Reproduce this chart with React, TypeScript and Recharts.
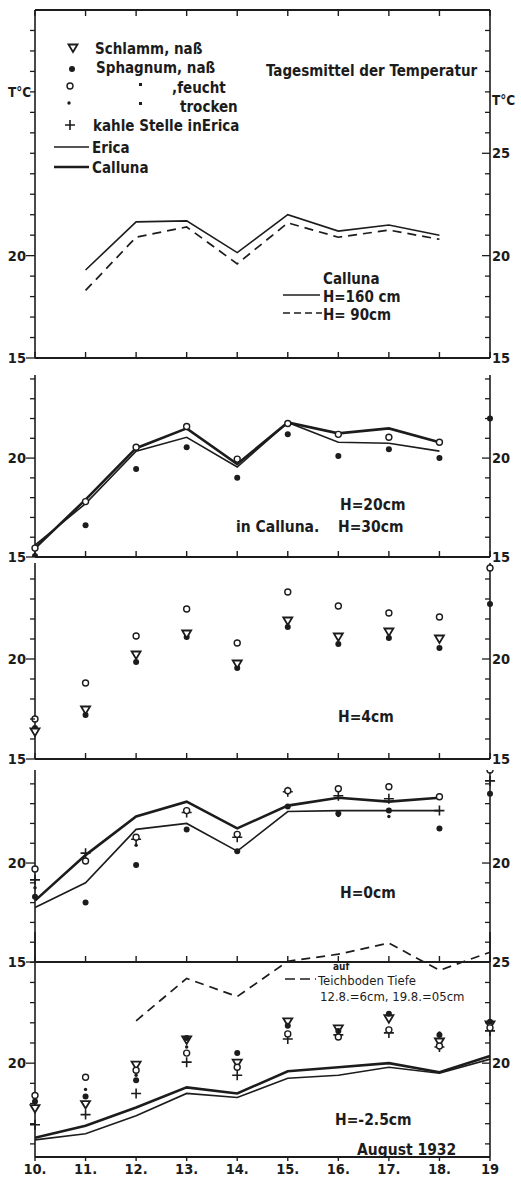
import React from "react";
import { ComposedChart, Line, XAxis, YAxis } from "recharts";

const INK = "#1c1c1c";
const FONT = "'DejaVu Sans Condensed', 'DejaVu Sans', sans-serif";
const PLOT_X = 35;
const PLOT_W = 455;

// Tage im August 1932
const days = [10, 11, 12, 13, 14, 15, 16, 17, 18, 19];
const dayLabels = ["10.", "11.", "12.", "13.", "14.", "15.", "16.", "17.", "18.", "19"];

// Feld 1: Calluna H=160 / 90 cm
const p1Calluna160 = [null, 19.3, 21.65, 21.7, 20.15, 22.0, 21.2, 21.5, 21.0, null];
const p1Calluna90 = [null, 18.3, 20.9, 21.4, 19.6, 21.6, 20.9, 21.25, 20.8, null];

// Feld 2: H=20cm / in Calluna H=30cm
const p2Calluna = [15.45, 17.9, 20.5, 21.5, 19.7, 21.8, 21.25, 21.5, 20.8, null];
const p2Erica = [15.6, 17.7, 20.35, 21.05, 19.55, 21.8, 20.8, 20.75, 20.35, null];
const p2Feucht = [15.45, 17.8, 20.55, 21.6, 19.95, 21.75, 21.2, 21.05, 20.8, null];
const p2Nass = [15.05, 16.6, 19.45, 20.55, 19.0, 21.2, 20.1, 20.45, 20.0, 22.0];

// Feld 3: H=4cm
const p3Feucht = [17.0, 18.8, 21.15, 22.5, 20.8, 23.35, 22.65, 22.3, 22.1, 24.55];
const p3Schlamm = [16.35, 17.45, 20.2, 21.25, 19.75, 21.9, 21.1, 21.35, 21.0, null];
const p3Nass = [16.55, 17.2, 19.85, 21.1, 19.55, 21.6, 20.75, 21.05, 20.55, 22.75];

// Feld 4: H=0cm
const p4Calluna = [18.1, 20.4, 22.35, 23.1, 21.75, 22.9, 23.3, 23.1, 23.3, null];
const p4Erica = [17.75, 19.0, 21.7, 22.0, 20.6, 22.6, 22.65, 22.65, 22.65, null];
const p4Feucht = [19.7, 20.1, 21.3, 22.65, 21.45, 23.65, 23.75, 23.85, 23.35, 24.7];
const p4Nass = [18.3, 18.0, 19.9, 21.7, 20.6, 22.85, 22.5, 22.65, 21.75, 23.5];
const p4Trocken = [18.75, null, 20.9, null, null, null, 22.4, 22.35, null, null];
const p4Kahl = [19.15, 20.5, 21.2, 22.55, 21.3, 23.6, 23.4, 23.25, 22.65, 24.15];

// Feld 5: H=-2.5cm
const p5Calluna = [16.3, 16.9, 17.8, 18.8, 18.5, 19.6, 19.8, 20.0, 19.55, 20.35];
const p5Erica = [16.2, 16.5, 17.4, 18.5, 18.3, 19.25, 19.4, 19.8, 19.5, 20.2];
const p5Teich = [null, null, 22.1, 24.2, 23.3, 25.05, 25.4, 25.95, 24.6, 25.5];
const p5Schlamm = [17.75, 17.95, 19.9, 21.15, 20.0, 22.05, 21.7, 22.2, 21.05, 21.9];
const p5Feucht = [18.4, 19.3, 19.65, 20.5, 19.8, 21.45, 21.3, 21.65, 20.85, 21.75];
const p5Nass = [18.1, 18.35, 19.15, 21.25, 20.5, 21.85, 21.6, 22.45, 21.4, 22.05];
const p5Trocken = [null, 18.7, 19.4, 20.8, null, null, null, null, 21.5, null];
const p5Kahl = [16.95, 17.45, 18.5, 20.05, 19.4, 21.2, 21.4, 21.5, 20.8, 21.6];

// Lage der fünf Felder (Pixel)
const panelBox = [
  { top: 10, bottom: 358 },
  { top: 375, bottom: 557 },
  { top: 563, bottom: 759 },
  { top: 770, bottom: 962 },
  { top: 932, bottom: 1157 },
];

type Kind = "thick" | "thin" | "dashed" | "tri" | "dot" | "ring" | "small" | "plus";
type Series = { key: string; kind: Kind; values: (number | null)[] };

function Mark({ kind, cx, cy }: { kind: Kind; cx: number; cy: number }) {
  if (kind === "tri")
    return (
      <path
        d={`M${cx - 4.5},${cy - 3.5} L${cx + 4.5},${cy - 3.5} L${cx},${cy + 4} Z`}
        fill="#fff"
        stroke={INK}
        strokeWidth={1.8}
      />
    );
  if (kind === "dot") return <circle cx={cx} cy={cy} r={3} fill={INK} />;
  if (kind === "ring") return <circle cx={cx} cy={cy} r={3} fill="#fff" stroke={INK} strokeWidth={1.4} />;
  if (kind === "small") return <circle cx={cx} cy={cy} r={1.7} fill={INK} />;
  return (
    <path
      d={`M${cx - 5},${cy} H${cx + 5} M${cx},${cy - 5} V${cy + 5}`}
      stroke={INK}
      strokeWidth={1.6}
    />
  );
}

function intTicks(lo: number, hi: number) {
  const out: number[] = [];
  for (let v = Math.ceil(lo); v <= Math.floor(hi); v++) out.push(v);
  return out;
}

// horizontale Rahmenlinie mit Tagesstrichen (dir: -1 nach oben, +1 nach unten)
function FrameLine({ x, y, dir, len }: { x: number; y: number; dir: number; len: number }) {
  const first = days[0];
  const last = days[days.length - 1];
  return (
    <g>
      <line x1={x} x2={x + PLOT_W} y1={y} y2={y} stroke={INK} strokeWidth={1.8} />
      {days.map((d) => {
        const dx = x + ((d - first) / (last - first)) * PLOT_W;
        return <line key={d} x1={dx} x2={dx} y1={y} y2={y + dir * len} stroke={INK} strokeWidth={1.4} />;
      })}
    </g>
  );
}

function LeftTick(props: any) {
  const { x, y, payload, labels } = props;
  const major = labels.includes(payload.value);
  return (
    <g>
      <line x1={x - (major ? 9 : 5)} x2={x} y1={y} y2={y} stroke={INK} strokeWidth={1.3} />
      {major && (
        <text x={x - 9} y={y + 5} textAnchor="end" fontSize={14.5} fontFamily={FONT} fontWeight="bold" fill={INK}>
          {payload.value}
        </text>
      )}
    </g>
  );
}

function RightTick(props: any) {
  const { x, y, payload, labels } = props;
  const major = labels.includes(payload.value);
  return (
    <g>
      <line x1={x - (major ? 8 : 5)} x2={x} y1={y} y2={y} stroke={INK} strokeWidth={1.3} />
      {major && (
        <text x={x + 2} y={y + 5} textAnchor="start" fontSize={14.5} fontFamily={FONT} fontWeight="bold" fill={INK}>
          {payload.value}
        </text>
      )}
    </g>
  );
}

type PanelProps = {
  box: { top: number; bottom: number };
  domain: [number, number];
  tickRange: [number, number];
  series: Series[];
  leftLabels: number[];
  rightLabels: number[];
  dayAxis?: boolean;
};

function Panel({ box, domain, tickRange, series, leftLabels, rightLabels, dayAxis }: PanelProps) {
  const { top, bottom } = box;
  const xAxisH = dayAxis ? 24 : 1;
  const mBottom = dayAxis ? 4 : 11;
  const rows = days.map((d, i) => {
    const r: Record<string, number | null> = { day: d };
    series.forEach((s) => (r[s.key] = s.values[i]));
    return r;
  });
  const yTicks = intTicks(tickRange[0], tickRange[1]);
  return (
    <div style={{ position: "absolute", left: 0, top: top - 12 }}>
      <ComposedChart
        width={521}
        height={bottom - top + 12 + xAxisH + mBottom}
        data={rows}
        margin={{ top: 12, right: 5, bottom: mBottom, left: 5 }}
        style={{ overflow: "visible" }}
      >
        <XAxis
          dataKey="day"
          type="number"
          domain={[10, 19]}
          ticks={days}
          interval={0}
          height={xAxisH}
          axisLine={false}
          tickLine={false}
          tick={
            dayAxis
              ? { fontSize: 14.5, fontFamily: FONT, fontWeight: "bold", fill: INK }
              : false
          }
          tickFormatter={(d: number) => dayLabels[days.indexOf(d)]}
          tickSize={4}
          tickMargin={3}
        />
        <YAxis
          yAxisId="l"
          orientation="left"
          width={30}
          type="number"
          domain={domain}
          allowDataOverflow
          ticks={yTicks}
          interval={0}
          tickSize={0}
          tickMargin={0}
          tickLine={false}
          axisLine={{ stroke: INK, strokeWidth: 1.6 }}
          tick={(p: any) => <LeftTick {...p} labels={leftLabels} />}
        />
        <YAxis
          yAxisId="r"
          orientation="right"
          width={26}
          type="number"
          domain={domain}
          allowDataOverflow
          ticks={yTicks}
          interval={0}
          tickSize={0}
          tickMargin={0}
          tickLine={false}
          axisLine={{ stroke: INK, strokeWidth: 1.6 }}
          tick={(p: any) => <RightTick {...p} labels={rightLabels} />}
        />
        {series.map((s) => {
          if (s.kind === "thick" || s.kind === "thin" || s.kind === "dashed") {
            return (
              <Line
                key={s.key}
                yAxisId="l"
                dataKey={s.key}
                type="linear"
                stroke={INK}
                strokeWidth={s.kind === "thick" ? 2.6 : s.kind === "dashed" ? 1.7 : 1.6}
                strokeDasharray={s.kind === "dashed" ? "9 6" : undefined}
                dot={false}
                activeDot={false}
                isAnimationActive={false}
              />
            );
          }
          return (
            <Line
              key={s.key}
              yAxisId="l"
              dataKey={s.key}
              stroke="none"
              activeDot={false}
              isAnimationActive={false}
              dot={(p: any) =>
                p.cy == null || p.value == null ? (
                  <g key={p.key} />
                ) : (
                  <g key={p.key}>
                    <Mark kind={s.kind} cx={p.cx} cy={p.cy} />
                  </g>
                )
              }
            />
          );
        })}
      </ComposedChart>
    </div>
  );
}

const txt = (x: number, y: number, s: string, size = 14, weight: string = "bold") => (
  <text x={x} y={y} fontSize={size} fontFamily={FONT} fontWeight={weight} fill={INK}>
    {s}
  </text>
);

export default function App() {
  return (
    <div style={{ position: "absolute", left: 0, top: 0, width: 521, height: 1185, background: "#fff", overflow: "hidden" }}>
      <Panel
        box={panelBox[0]}
        domain={[15, 32]}
        tickRange={[15, 31]}
        leftLabels={[15, 20]}
        rightLabels={[15, 20, 25]}
        series={[
          { key: "h160", kind: "thin", values: p1Calluna160 },
          { key: "h90", kind: "dashed", values: p1Calluna90 },
        ]}
      />
      <Panel
        box={panelBox[1]}
        domain={[15, 24.2]}
        tickRange={[15, 24]}
        leftLabels={[15, 20]}
        rightLabels={[15, 20]}
        series={[
          { key: "calluna", kind: "thick", values: p2Calluna },
          { key: "erica", kind: "thin", values: p2Erica },
          { key: "nass", kind: "dot", values: p2Nass },
          { key: "feucht", kind: "ring", values: p2Feucht },
        ]}
      />
      <Panel
        box={panelBox[2]}
        domain={[15, 24.8]}
        tickRange={[15, 24]}
        leftLabels={[15, 20]}
        rightLabels={[15, 20]}
        series={[
          { key: "nass", kind: "dot", values: p3Nass },
          { key: "schlamm", kind: "tri", values: p3Schlamm },
          { key: "feucht", kind: "ring", values: p3Feucht },
        ]}
      />
      <Panel
        box={panelBox[3]}
        domain={[15, 24.7]}
        tickRange={[15, 24]}
        leftLabels={[15, 20]}
        rightLabels={[20]}
        series={[
          { key: "calluna", kind: "thick", values: p4Calluna },
          { key: "erica", kind: "thin", values: p4Erica },
          { key: "kahl", kind: "plus", values: p4Kahl },
          { key: "nass", kind: "dot", values: p4Nass },
          { key: "trocken", kind: "small", values: p4Trocken },
          { key: "feucht", kind: "ring", values: p4Feucht },
        ]}
      />
      <Panel
        box={panelBox[4]}
        domain={[15.35, 26.5]}
        tickRange={[16, 25]}
        dayAxis
        leftLabels={[20]}
        rightLabels={[20, 25]}
        series={[
          { key: "calluna", kind: "thick", values: p5Calluna },
          { key: "erica", kind: "thin", values: p5Erica },
          { key: "teich", kind: "dashed", values: p5Teich },
          { key: "kahl", kind: "plus", values: p5Kahl },
          { key: "schlamm", kind: "tri", values: p5Schlamm },
          { key: "nass", kind: "dot", values: p5Nass },
          { key: "trocken", kind: "small", values: p5Trocken },
          { key: "feucht", kind: "ring", values: p5Feucht },
        ]}
      />
      <svg width={521} height={1185} style={{ position: "absolute", left: 0, top: 0, pointerEvents: "none" }}>
        {/* Rahmenlinien der Felder */}
        <FrameLine x={PLOT_X} y={panelBox[0].top} dir={1} len={6} />
        {panelBox.slice(0, 4).map((b, i) => (
          <FrameLine key={i} x={PLOT_X} y={b.bottom} dir={-1} len={6} />
        ))}
        <FrameLine x={PLOT_X} y={panelBox[4].bottom} dir={1} len={4} />
        {/* Kopf */}
        {txt(266, 76, "Tagesmittel der Temperatur", 15)}
        {txt(8, 97, "T°C", 13.5)}
        {txt(492, 105, "T°C", 13.5)}
        {/* Legende */}
        <Mark kind="tri" cx={73} cy={48} />
        <Mark kind="dot" cx={72} cy={69} />
        <Mark kind="ring" cx={70} cy={86} />
        <Mark kind="small" cx={69} cy={103} />
        <Mark kind="plus" cx={70} cy={125} />
        <rect x={139} y={83} width={3} height={3} fill={INK} />
        <rect x={139} y={102} width={3} height={3} fill={INK} />
        {txt(95, 54, "Schlamm, naß", 15)}
        {txt(96, 73, "Sphagnum, naß", 15)}
        {txt(172, 93, ",feucht", 15)}
        {txt(180, 112, "trocken", 15)}
        {txt(93, 131, "kahle Stelle inErica", 15)}
        <line x1={54} x2={89} y1={147} y2={147} stroke={INK} strokeWidth={1.5} />
        <line x1={54} x2={89} y1={167} y2={167} stroke={INK} strokeWidth={2.4} />
        {txt(92, 153, "Erica", 15)}
        {txt(92, 173, "Calluna", 15)}
        {/* Feld 1 */}
        {txt(323, 284, "Calluna", 15)}
        <line x1={283} x2={320} y1={295} y2={295} stroke={INK} strokeWidth={1.5} />
        {txt(323, 302, "H=160 cm", 15)}
        <line x1={283} x2={322} y1={313} y2={313} stroke={INK} strokeWidth={1.5} strokeDasharray="7 4" />
        {txt(323, 320, "H=  90cm", 15)}
        {/* Feld 2 */}
        {txt(340, 510, "H=20cm", 15.5)}
        {txt(236, 532, "in Calluna.", 15.5)}
        {txt(338, 532, "H=30cm", 15.5)}
        {/* Feld 3 */}
        {txt(338, 722, "H=4cm", 15.5)}
        {/* Feld 4 */}
        {txt(340, 898, "H=0cm", 15.5)}
        {/* Feld 5 */}
        {txt(333, 970, "auf", 10)}
        <line x1={285} x2={316} y1={979} y2={979} stroke={INK} strokeWidth={1.6} strokeDasharray="10 5" />
        {txt(318, 985, "Teichboden Tiefe", 13, "normal")}
        {txt(320, 1001, "12.8.=6cm, 19.8.=05cm", 13, "normal")}
        {txt(335, 1125, "H=-2.5cm", 15.5)}
        {txt(357, 1155, "August 1932", 15.5)}
      </svg>
    </div>
  );
}
